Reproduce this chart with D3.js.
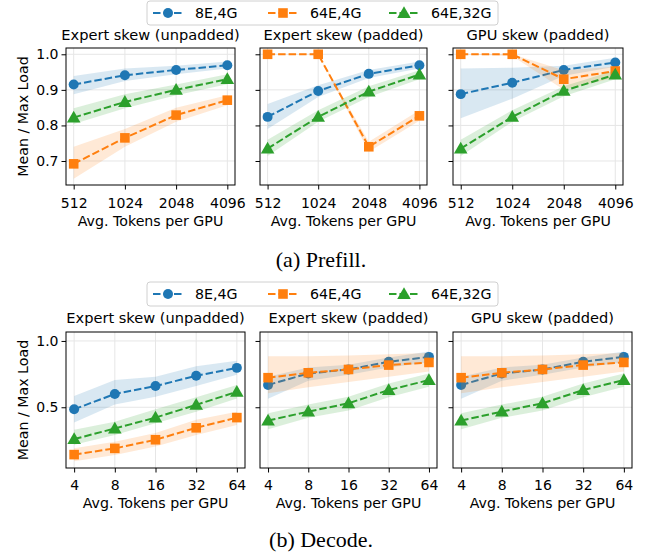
<!DOCTYPE html>
<html><head><meta charset="utf-8">
<script src="https://cdn.jsdelivr.net/npm/d3@7"></script>
<style>
body{margin:0;background:#fff;}
text{font-family:"DejaVu Sans",sans-serif;fill:#000;}
</style></head>
<body><svg id="c" width="647" height="559"></svg>
<script>
// ---------- data ----------
const seriesNames = ["8E,4G", "64E,4G", "64E,32G"];
const seriesColors = ["#1f77b4", "#ff7f0e", "#2ca02c"];
const panelTitles = ["Expert skew (unpadded)", "Expert skew (padded)", "GPU skew (padded)"];
const prefillTokens = [512, 1024, 2048, 4096];
const decodeTokens = [4, 8, 16, 32, 64];
const prefillYTicks = [0.7, 0.8, 0.9, 1.0];
const decodeYTicks = [0.5, 1.0];
const captions = ["(a) Prefill.", "(b) Decode."];

// Prefill: per panel, per token count
const prefillMean_8E4G   = [[0.915,0.941,0.956,0.969],[0.824,0.897,0.945,0.969],[0.888,0.920,0.956,0.977]];
const prefillLow_8E4G    = [[0.888,0.925,0.944,0.960],[0.790,0.880,0.933,0.960],[0.820,0.875,0.940,0.965]];
const prefillHigh_8E4G   = [[0.939,0.960,0.968,0.980],[0.860,0.913,0.956,0.980],[0.960,0.962,0.968,0.990]];
const prefillMean_64E4G  = [[0.692,0.765,0.829,0.871],[1.000,1.000,0.740,0.827],[1.000,1.000,0.930,0.953]];
const prefillLow_64E4G   = [[0.650,0.740,0.810,0.857],[1.000,1.000,0.726,0.813],[1.000,0.995,0.900,0.935]];
const prefillHigh_64E4G  = [[0.740,0.790,0.850,0.885],[1.000,1.000,0.754,0.843],[1.000,1.000,0.955,0.965]];
const prefillMean_64E32G = [[0.822,0.866,0.900,0.930],[0.735,0.824,0.895,0.943],[0.735,0.824,0.897,0.943]];
const prefillLow_64E32G  = [[0.804,0.848,0.885,0.916],[0.714,0.810,0.880,0.930],[0.714,0.810,0.882,0.930]];
const prefillHigh_64E32G = [[0.848,0.888,0.915,0.944],[0.760,0.843,0.910,0.955],[0.760,0.843,0.910,0.955]];

// Decode
const decodeMean_8E4G   = [[0.485,0.600,0.660,0.737,0.797],[0.668,0.755,0.785,0.843,0.880],[0.668,0.755,0.785,0.843,0.880]];
const decodeLow_8E4G    = [[0.385,0.520,0.580,0.660,0.745],[0.565,0.700,0.745,0.800,0.840],[0.565,0.700,0.745,0.800,0.840]];
const decodeHigh_8E4G   = [[0.585,0.705,0.730,0.810,0.850],[0.730,0.800,0.820,0.875,0.920],[0.730,0.800,0.820,0.875,0.920]];
const decodeMean_64E4G  = [[0.143,0.190,0.255,0.345,0.422],[0.723,0.760,0.785,0.818,0.838],[0.723,0.760,0.785,0.818,0.838]];
const decodeLow_64E4G   = [[0.093,0.140,0.205,0.290,0.367],[0.605,0.650,0.690,0.730,0.770],[0.605,0.650,0.690,0.730,0.770]];
const decodeHigh_64E4G  = [[0.190,0.240,0.305,0.405,0.467],[0.885,0.885,0.890,0.900,0.910],[0.885,0.885,0.890,0.900,0.910]];
const decodeMean_64E32G = [[0.260,0.340,0.422,0.518,0.617],[0.400,0.467,0.530,0.630,0.705],[0.400,0.467,0.530,0.630,0.705]];
const decodeLow_64E32G  = [[0.217,0.290,0.380,0.467,0.567],[0.335,0.420,0.475,0.575,0.655],[0.335,0.420,0.475,0.575,0.655]];
const decodeHigh_64E32G = [[0.330,0.390,0.485,0.575,0.667],[0.455,0.520,0.580,0.680,0.755],[0.455,0.520,0.580,0.680,0.755]];

// ---------- layout ----------
const svg = d3.select("#c");
const rows = [
  {tokens: prefillTokens, yTicks: prefillYTicks, yDomain: [0.6325, 1.0177],
   xDomain: [Math.pow(2, 8.85), Math.pow(2, 12.15)],
   top: 48, bottom: 185, panels: [[66,235],[260,427],[453,623]],
   mean: [prefillMean_8E4G, prefillMean_64E4G, prefillMean_64E32G],
   low: [prefillLow_8E4G, prefillLow_64E4G, prefillLow_64E32G],
   high: [prefillHigh_8E4G, prefillHigh_64E4G, prefillHigh_64E32G],
   legendY: 1, titleY: 40, tickY: 207.5, xlabY: 226, caption: captions[0], capY: 267},
  {tokens: decodeTokens, yTicks: decodeYTicks, yDomain: [0.042, 1.0675],
   xDomain: [Math.pow(2, 1.8), Math.pow(2, 6.2)],
   top: 332, bottom: 468, panels: [[66,245],[260,437],[453,632]],
   mean: [decodeMean_8E4G, decodeMean_64E4G, decodeMean_64E32G],
   low: [decodeLow_8E4G, decodeLow_64E4G, decodeLow_64E32G],
   high: [decodeHigh_8E4G, decodeHigh_64E4G, decodeHigh_64E32G],
   legendY: 282, titleY: 323, tickY: 489.5, xlabY: 507.5, caption: captions[1], capY: 547}
];
const symbols = [d3.symbolCircle, d3.symbolSquare, d3.symbolTriangle];
const symSizes = [78, 92, 80];

rows.forEach(row => {
  const y = d3.scaleLinear().domain(row.yDomain).range([row.bottom, row.top]);
  row.panels.forEach((pb, pi) => {
    const x = d3.scaleLog().base(2).domain(row.xDomain).range([pb[0], pb[1]]);
    const g = svg.append("g");
    // grid
    g.selectAll(".gx").data(row.tokens).enter().append("line")
      .attr("x1", d => x(d)).attr("x2", d => x(d)).attr("y1", row.top).attr("y2", row.bottom)
      .attr("stroke", "#e6e6e6").attr("stroke-width", 1);
    g.selectAll(".gy").data(row.yTicks).enter().append("line")
      .attr("x1", pb[0]).attr("x2", pb[1]).attr("y1", d => y(d)).attr("y2", d => y(d))
      .attr("stroke", "#e6e6e6").attr("stroke-width", 1);
    // series
    seriesNames.forEach((s, si) => {
      const pts = row.tokens.map((t, i) => ({t, m: row.mean[si][pi][i], lo: row.low[si][pi][i], hi: row.high[si][pi][i]}));
      g.append("path").datum(pts)
        .attr("d", d3.area().x(d => x(d.t)).y0(d => y(d.lo)).y1(d => y(d.hi)))
        .attr("fill", seriesColors[si]).attr("fill-opacity", 0.17);
      g.append("path").datum(pts)
        .attr("d", d3.line().x(d => x(d.t)).y(d => y(d.m)))
        .attr("fill", "none").attr("stroke", seriesColors[si]).attr("stroke-width", 2)
        .attr("stroke-dasharray", "7.5,3");
      g.selectAll(null).data(pts).enter().append("path")
        .attr("d", d3.symbol().type(symbols[si]).size(symSizes[si]))
        .attr("transform", d => `translate(${x(d.t)},${y(d.m) + (si === 2 ? 1 : 0)})`)
        .attr("fill", seriesColors[si]);
    });
    // frame
    g.append("rect").attr("x", pb[0]).attr("y", row.top).attr("width", pb[1] - pb[0]).attr("height", row.bottom - row.top)
      .attr("fill", "none").attr("stroke", "#000").attr("stroke-width", 1);
    // x axis
    const xa = d3.axisBottom(x).tickValues(row.tokens).tickFormat(d3.format("d")).tickSize(4.5).tickPadding(3);
    const xg = g.append("g").attr("transform", `translate(0,${row.bottom})`).call(xa);
    xg.select(".domain").remove();
    xg.selectAll("text").attr("y", null).attr("dy", null).attr("transform", `translate(0,${row.tickY - row.bottom})`)
      .style("font-family", "DejaVu Sans").style("font-size", "14px");
    // y axis
    const ya = d3.axisLeft(y).tickValues(row.yTicks).tickFormat(pi === 0 ? d3.format(".1f") : () => "").tickSize(4.5).tickPadding(3);
    const yg = g.append("g").attr("transform", `translate(${pb[0]},0)`).call(ya);
    yg.select(".domain").remove();
    yg.selectAll("text").style("font-family", "DejaVu Sans").style("font-size", "14px");
    // title
    g.append("text").attr("x", (pb[0] + pb[1]) / 2).attr("y", row.titleY).attr("text-anchor", "middle")
      .style("font-size", "14.6px").text(panelTitles[pi]);
    // xlabel
    g.append("text").attr("x", (pb[0] + pb[1]) / 2).attr("y", row.xlabY).attr("text-anchor", "middle")
      .style("font-size", "14.2px").text("Avg. Tokens per GPU");
  });
  // y label
  const cy = (row.top + row.bottom) / 2;
  svg.append("text").attr("transform", `translate(28,${cy}) rotate(-90)`).attr("text-anchor", "middle")
    .style("font-size", "14.2px").text("Mean / Max Load");
  // legend
  const lg = svg.append("g");
  lg.append("rect").attr("x", 147).attr("y", row.legendY).attr("width", 351).attr("height", 24).attr("rx", 3)
    .attr("fill", "#fff").attr("fill-opacity", 0.8).attr("stroke", "#d0d0d0");
  const lx = [153, 268, 389];
  seriesNames.forEach((s, si) => {
    const cyl = row.legendY + 12;
    lg.append("line").attr("x1", lx[si]).attr("x2", lx[si] + 30).attr("y1", cyl).attr("y2", cyl)
      .attr("stroke", seriesColors[si]).attr("stroke-width", 2).attr("stroke-dasharray", "7.5,3");
    lg.append("path").attr("d", d3.symbol().type(symbols[si]).size(symSizes[si]))
      .attr("transform", `translate(${lx[si] + 15},${cyl + (si === 2 ? 1 : 0)})`).attr("fill", seriesColors[si]);
    lg.append("text").attr("x", lx[si] + 42).attr("y", cyl + 5).style("font-size", "14.2px").text(s);
  });
  // caption
  svg.append("text").attr("x", 321).attr("y", row.capY).attr("text-anchor", "middle")
    .style("font-family", "'Liberation Serif', 'Times New Roman', serif").style("font-size", "22px").text(row.caption);
});
</script></body></html>
